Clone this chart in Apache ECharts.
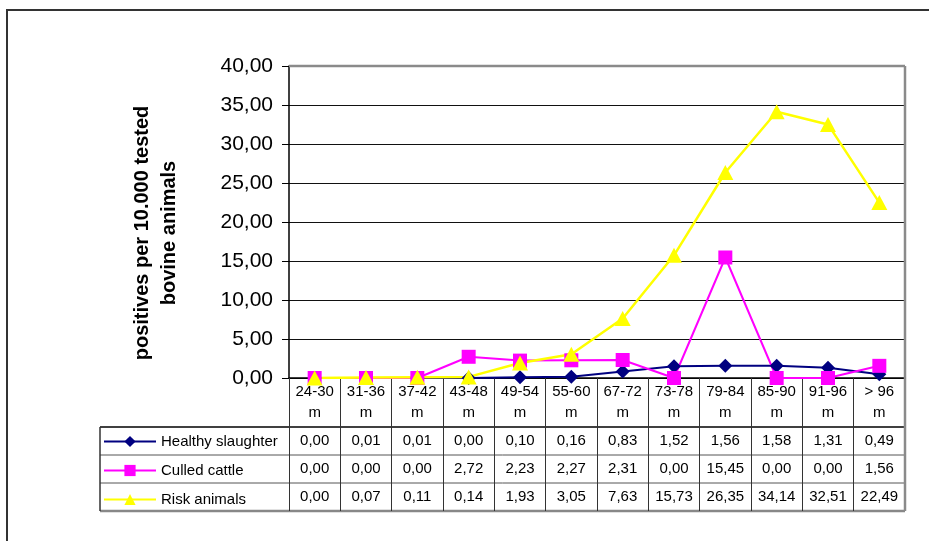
<!DOCTYPE html>
<html>
<head>
<meta charset="utf-8">
<script src="https://cdn.jsdelivr.net/npm/echarts@6/dist/echarts.min.js"></script>
<style>
  html, body { margin: 0; padding: 0; background: #fff; }
  #chart { width: 929px; height: 541px; }
</style>
</head>
<body>
<div id="chart"></div>
<script>
// Age classes (months) and positives per 10.000 tested bovine animals
const categories = ['24-30 m', '31-36 m', '37-42 m', '43-48 m', '49-54 m', '55-60 m',
                    '67-72 m', '73-78 m', '79-84 m', '85-90 m', '91-96 m', '> 96 m'];
const healthySlaughter = [0.00, 0.01, 0.01, 0.00, 0.10, 0.16, 0.83, 1.52, 1.56, 1.58, 1.31, 0.49];
const culledCattle     = [0.00, 0.00, 0.00, 2.72, 2.23, 2.27, 2.31, 0.00, 15.45, 0.00, 0.00, 1.56];
const riskAnimals      = [0.00, 0.07, 0.11, 0.14, 1.93, 3.05, 7.63, 15.73, 26.35, 34.14, 32.51, 22.49];
const seriesNames = ['Healthy slaughter', 'Culled cattle', 'Risk animals'];
const yMin = 0, yMax = 40, yStep = 5;

const FONT = '"Liberation Sans", Arial, sans-serif';
const fmt = v => v.toFixed(2).replace('.', ',');

const chart = echarts.init(document.getElementById('chart'), null, { renderer: 'canvas' });

const GRID = { left: 289, right: 24, top: 66, bottom: 163 };
const ROW_H = 28;

const option = {
  animation: false,
  backgroundColor: '#fff',
  textStyle: { fontFamily: FONT, color: '#000' },
  grid: GRID,
  legend: {
    orient: 'vertical',
    left: 103,
    top: 434,
    padding: 0,
    itemWidth: 52,
    itemHeight: 14,
    itemGap: 14,
    selectedMode: false,
    textStyle: { fontFamily: FONT, fontSize: 15, color: '#000', lineHeight: 14 },
    data: seriesNames
  },
  xAxis: {
    type: 'category',
    data: categories,
    boundaryGap: true,
    axisLine: { show: true, lineStyle: { color: '#000', width: 1.5 } },
    axisTick: { show: true, length: 133, lineStyle: { color: '#333', width: 1 } },
    axisLabel: {
      fontFamily: FONT, fontSize: 15, color: '#000', lineHeight: 21, margin: 3,
      interval: 0,
      formatter: v => { const k = v.lastIndexOf(' '); return v.slice(0, k) + '\n' + v.slice(k + 1); }
    },
    splitLine: { show: false }
  },
  yAxis: {
    type: 'value',
    min: yMin, max: yMax, interval: yStep,
    name: 'positives per 10.000 tested\nbovine animals',
    nameLocation: 'middle',
    nameRotate: 90,
    nameGap: 106,
    nameTextStyle: { fontFamily: FONT, fontSize: 20, fontWeight: 'bold', color: '#000',
                     lineHeight: 27, padding: [0, 22, 0, 0] },
    axisLine: { show: true, lineStyle: { color: '#000', width: 1.5 } },
    axisTick: { show: true, length: 7, lineStyle: { color: '#000' } },
    axisLabel: { fontFamily: FONT, fontSize: 21, color: '#000', margin: 16, formatter: v => fmt(v) },
    splitLine: { show: true, lineStyle: { color: '#111', width: 1 } }
  },
  series: [
    {
      name: seriesNames[0], type: 'line', data: healthySlaughter,
      symbol: 'diamond', symbolSize: 14,
      lineStyle: { color: '#000080', width: 2 },
      itemStyle: { color: '#000080' }
    },
    {
      name: seriesNames[1], type: 'line', data: culledCattle,
      symbol: 'rect', symbolSize: 14,
      lineStyle: { color: '#FF00FF', width: 2 },
      itemStyle: { color: '#FF00FF' }
    },
    {
      name: seriesNames[2], type: 'line', data: riskAnimals,
      symbol: 'triangle', symbolSize: [16, 15],
      lineStyle: { color: '#FFFF00', width: 2.5 },
      itemStyle: { color: '#FFFF00' }
    }
  ]
};

chart.setOption(option);

// Data table underneath the plot, aligned to the category axis
function buildTable() {
  const W = chart.getWidth();
  const H = chart.getHeight();
  const plotLeft = GRID.left;
  const plotRight = W - GRID.right;
  const plotTop = GRID.top;
  const axisY = H - GRID.bottom;
  const headTop = axisY + 49;          // top of the value rows
  const tableLeft = 100;
  const tableBottom = headTop + ROW_H * 3;
  const els = [];

  // outer frame
  els.push({ type: 'rect', shape: { x: 7, y: 10, width: 1000, height: 700 },
             style: { fill: null, stroke: '#333', lineWidth: 2 }, z: 0 });

  // horizontal rules of the table
  els.push({ type: 'line', shape: { x1: tableLeft, y1: headTop, x2: plotRight, y2: headTop },
             style: { stroke: '#000', lineWidth: 1.5 } });
  for (let r = 1; r < 3; r++) {
    const y = headTop + ROW_H * r;
    els.push({ type: 'line', shape: { x1: tableLeft, y1: y, x2: plotRight, y2: y },
               style: { stroke: '#555', lineWidth: 1 } });
  }
  els.push({ type: 'line', shape: { x1: tableLeft, y1: tableBottom, x2: plotRight, y2: tableBottom },
             style: { stroke: '#888', lineWidth: 2.5 } });
  els.push({ type: 'line', shape: { x1: tableLeft, y1: headTop, x2: tableLeft, y2: tableBottom },
             style: { stroke: '#333', lineWidth: 1.5 } });

  // plot area border (top and right), continuing down the table
  els.push({ type: 'line', shape: { x1: plotLeft, y1: plotTop, x2: plotRight, y2: plotTop },
             style: { stroke: '#8a8a8a', lineWidth: 2.5 }, z: 10 });
  els.push({ type: 'line', shape: { x1: plotRight, y1: plotTop, x2: plotRight, y2: tableBottom },
             style: { stroke: '#8a8a8a', lineWidth: 2.5 }, z: 10 });

  // values
  const rows = [healthySlaughter, culledCattle, riskAnimals];
  rows.forEach((vals, r) => {
    const cy = headTop + ROW_H * r + ROW_H / 2;
    vals.forEach((v, i) => {
      const cx = chart.convertToPixel({ xAxisIndex: 0 }, i);
      els.push({ type: 'text', x: cx, y: cy,
                 style: { text: fmt(v), fontFamily: FONT, fontSize: 15, fill: '#000',
                          align: 'center', verticalAlign: 'middle' } });
    });
  });

  chart.setOption({ graphic: { elements: els } });
}
buildTable();
</script>
</body>
</html>
